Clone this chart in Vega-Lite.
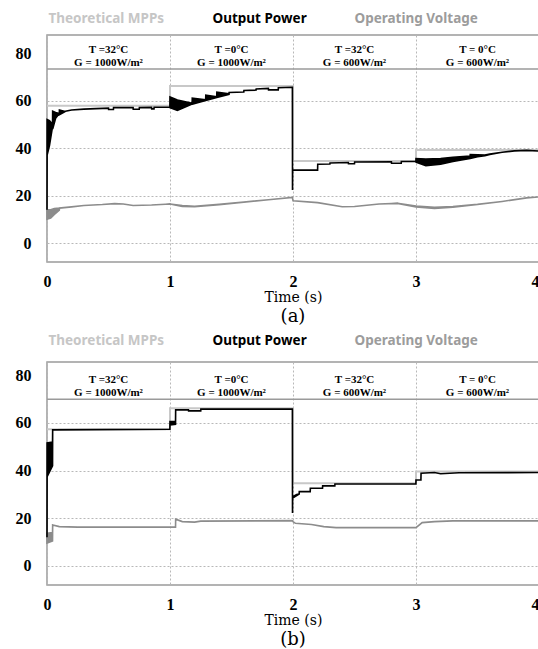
{
  "$schema": "https://vega.github.io/schema/vega-lite/v6.json",
  "padding": {"left": 14, "top": 11, "right": 0, "bottom": 2},
  "spacing": 6,
  "background": "white",
  "config": {
    "view": {"stroke": "#9a9a9a", "strokeWidth": 1.5},
    "axis": {
      "grid": true, "gridColor": "#b8b8b8", "gridDash": [2, 2], "gridWidth": 1,
      "domain": false, "ticks": false, "tickSize": 0,
      "labelFont": "Liberation Serif", "labelFontSize": 16, "labelFontWeight": "bold", "labelColor": "#000000",
      "titleFont": "DejaVu Serif", "titleFontSize": 14, "titleFontWeight": "normal", "titleColor": "#000000"
    },
    "title": {"font": "DejaVu Serif", "fontSize": 18, "fontWeight": "normal", "color": "#000000"}
  },
  "datasets": {
    "a_mpp": [
      {"t": 0, "v": 57.8}, {"t": 1, "v": 66.1}, {"t": 2, "v": 34.5}, {"t": 3, "v": 39.2}, {"t": 4, "v": 39.2}
    ],
    "b_mpp": [
      {"t": 0, "v": 57.4}, {"t": 1, "v": 66.2}, {"t": 2, "v": 34.7}, {"t": 3, "v": 39.6}, {"t": 4, "v": 39.6}
    ],
    "a_power": [
      {"t": 0, "hi": 14, "lo": 14},
      {"t": 0.001, "hi": 52, "lo": 37},
      {"t": 0.02, "hi": 51.5, "lo": 41},
      {"t": 0.045, "hi": 50, "lo": 49},
      {"t": 0.046, "hi": 55.5, "lo": 48},
      {"t": 0.07, "hi": 55, "lo": 52.5},
      {"t": 0.1, "hi": 54.5, "lo": 54.5},
      {"t": 0.101, "hi": 56, "lo": 54},
      {"t": 0.14, "hi": 55.5, "lo": 55.2},
      {"t": 0.15, "hi": 55.5, "lo": 55.5},
      {"t": 0.2, "hi": 56, "lo": 56},
      {"t": 0.3, "hi": 56.4, "lo": 56.4},
      {"t": 0.4, "hi": 56.6, "lo": 56.6},
      {"t": 0.5, "hi": 56.8, "lo": 56.8},
      {"t": 0.501, "hi": 56.2, "lo": 56.2},
      {"t": 0.54, "hi": 56.2, "lo": 56.2},
      {"t": 0.541, "hi": 57, "lo": 57},
      {"t": 0.7, "hi": 57, "lo": 57},
      {"t": 0.701, "hi": 56.3, "lo": 56.3},
      {"t": 0.75, "hi": 56.3, "lo": 56.3},
      {"t": 0.751, "hi": 57, "lo": 57},
      {"t": 0.85, "hi": 57.1, "lo": 57.1},
      {"t": 0.851, "hi": 56.5, "lo": 56.5},
      {"t": 0.87, "hi": 56.5, "lo": 56.5},
      {"t": 0.871, "hi": 57.2, "lo": 57.2},
      {"t": 0.999, "hi": 57.3, "lo": 57.3},
      {"t": 1.0, "hi": 61.5, "lo": 57},
      {"t": 1.06, "hi": 60.2, "lo": 55.8},
      {"t": 1.18, "hi": 58.8, "lo": 58.5},
      {"t": 1.181, "hi": 61, "lo": 58.5},
      {"t": 1.29, "hi": 60.3, "lo": 60},
      {"t": 1.291, "hi": 62.3, "lo": 60},
      {"t": 1.38, "hi": 61.6, "lo": 61.3},
      {"t": 1.381, "hi": 63.5, "lo": 61.3},
      {"t": 1.48, "hi": 62.8, "lo": 62.6},
      {"t": 1.481, "hi": 63.4, "lo": 63.4},
      {"t": 1.6, "hi": 63.6, "lo": 63.6},
      {"t": 1.601, "hi": 64.2, "lo": 64.2},
      {"t": 1.7, "hi": 64.4, "lo": 64.4},
      {"t": 1.701, "hi": 64.9, "lo": 64.9},
      {"t": 1.8, "hi": 65.1, "lo": 65.1},
      {"t": 1.801, "hi": 64.5, "lo": 64.5},
      {"t": 1.88, "hi": 64.5, "lo": 64.5},
      {"t": 1.881, "hi": 65.4, "lo": 65.4},
      {"t": 1.995, "hi": 65.6, "lo": 65.6},
      {"t": 1.996, "hi": 22.3, "lo": 22.3},
      {"t": 1.997, "hi": 30.7, "lo": 30.7},
      {"t": 2.2, "hi": 30.7, "lo": 30.7},
      {"t": 2.201, "hi": 33.2, "lo": 33.2},
      {"t": 2.3, "hi": 33.3, "lo": 33.3},
      {"t": 2.301, "hi": 33.7, "lo": 33.7},
      {"t": 2.45, "hi": 33.9, "lo": 33.9},
      {"t": 2.451, "hi": 33.4, "lo": 33.4},
      {"t": 2.5, "hi": 33.4, "lo": 33.4},
      {"t": 2.501, "hi": 34.1, "lo": 34.1},
      {"t": 2.8, "hi": 34.2, "lo": 34.2},
      {"t": 2.801, "hi": 33.6, "lo": 33.6},
      {"t": 2.88, "hi": 33.6, "lo": 33.6},
      {"t": 2.881, "hi": 34.3, "lo": 34.3},
      {"t": 2.999, "hi": 34.3, "lo": 34.3},
      {"t": 3.0, "hi": 35.6, "lo": 34.1},
      {"t": 3.08, "hi": 35.4, "lo": 32.6},
      {"t": 3.2, "hi": 35.6, "lo": 33.2},
      {"t": 3.3, "hi": 36.1, "lo": 34.3},
      {"t": 3.44, "hi": 36.6, "lo": 35.6},
      {"t": 3.441, "hi": 37.2, "lo": 35.6},
      {"t": 3.5, "hi": 37.1, "lo": 36.3},
      {"t": 3.56, "hi": 37, "lo": 36.8},
      {"t": 3.6, "hi": 37.5, "lo": 37.3},
      {"t": 3.7, "hi": 38.2, "lo": 38.2},
      {"t": 3.8, "hi": 38.8, "lo": 38.8},
      {"t": 3.9, "hi": 39.0, "lo": 39.0},
      {"t": 4.0, "hi": 38.7, "lo": 38.7}
    ],
    "a_volt": [
      {"t": 0, "hi": 14, "lo": 10},
      {"t": 0.03, "hi": 14, "lo": 10.5},
      {"t": 0.06, "hi": 14.5, "lo": 12},
      {"t": 0.1, "hi": 14.7, "lo": 13.8},
      {"t": 0.101, "hi": 14.7, "lo": 14.7},
      {"t": 0.2, "hi": 15.2, "lo": 15.2},
      {"t": 0.3, "hi": 15.8, "lo": 15.8},
      {"t": 0.45, "hi": 16.2, "lo": 16.2},
      {"t": 0.55, "hi": 16.6, "lo": 16.6},
      {"t": 0.62, "hi": 16.4, "lo": 16.4},
      {"t": 0.7, "hi": 15.8, "lo": 15.8},
      {"t": 0.85, "hi": 16.0, "lo": 16.0},
      {"t": 1.0, "hi": 16.4, "lo": 16.4},
      {"t": 1.1, "hi": 15.8, "lo": 15.4},
      {"t": 1.2, "hi": 15.5, "lo": 15.3},
      {"t": 1.4, "hi": 16.3, "lo": 16.1},
      {"t": 1.6, "hi": 17.3, "lo": 17.2},
      {"t": 1.8, "hi": 18.2, "lo": 18.2},
      {"t": 1.995, "hi": 19.2, "lo": 19.2},
      {"t": 2.0, "hi": 17.8, "lo": 17.8},
      {"t": 2.2, "hi": 17.0, "lo": 17.0},
      {"t": 2.4, "hi": 15.3, "lo": 15.3},
      {"t": 2.5, "hi": 15.4, "lo": 15.4},
      {"t": 2.7, "hi": 16.4, "lo": 16.4},
      {"t": 2.85, "hi": 16.7, "lo": 16.7},
      {"t": 3.0, "hi": 15.6, "lo": 15.2},
      {"t": 3.15, "hi": 15.0, "lo": 14.6},
      {"t": 3.3, "hi": 15.4, "lo": 15.1},
      {"t": 3.5, "hi": 16.3, "lo": 16.2},
      {"t": 3.7, "hi": 17.5, "lo": 17.5},
      {"t": 3.9, "hi": 19.0, "lo": 19.0},
      {"t": 4.0, "hi": 19.4, "lo": 19.4}
    ],
    "b_power": [
      {"t": 0, "hi": 12, "lo": 12},
      {"t": 0.001, "hi": 51.6, "lo": 37.5},
      {"t": 0.045, "hi": 52, "lo": 42},
      {"t": 0.046, "hi": 57.1, "lo": 57.1},
      {"t": 0.999, "hi": 57.4, "lo": 57.4},
      {"t": 1.0, "hi": 60.6, "lo": 59.2},
      {"t": 1.045, "hi": 60.6, "lo": 59.5},
      {"t": 1.046, "hi": 65.5, "lo": 65.5},
      {"t": 1.15, "hi": 65.5, "lo": 65.5},
      {"t": 1.151, "hi": 65.1, "lo": 65.1},
      {"t": 1.25, "hi": 65.1, "lo": 65.1},
      {"t": 1.251, "hi": 65.8, "lo": 65.8},
      {"t": 1.995, "hi": 65.8, "lo": 65.8},
      {"t": 1.996, "hi": 22.2, "lo": 22.2},
      {"t": 1.997, "hi": 29.1, "lo": 28.5},
      {"t": 2.03, "hi": 30.0, "lo": 29.5},
      {"t": 2.05, "hi": 30.2, "lo": 30.2},
      {"t": 2.051, "hi": 31.2, "lo": 31.2},
      {"t": 2.14, "hi": 31.2, "lo": 31.2},
      {"t": 2.141, "hi": 32.6, "lo": 32.6},
      {"t": 2.24, "hi": 32.6, "lo": 32.6},
      {"t": 2.241, "hi": 33.6, "lo": 33.6},
      {"t": 2.34, "hi": 33.6, "lo": 33.6},
      {"t": 2.341, "hi": 34.4, "lo": 34.4},
      {"t": 2.999, "hi": 34.4, "lo": 34.4},
      {"t": 3.0, "hi": 36.1, "lo": 36.1},
      {"t": 3.04, "hi": 36.1, "lo": 36.1},
      {"t": 3.041, "hi": 38.9, "lo": 38.9},
      {"t": 3.15, "hi": 39.2, "lo": 39.2},
      {"t": 3.2, "hi": 38.7, "lo": 38.7},
      {"t": 3.35, "hi": 39.1, "lo": 39.1},
      {"t": 4.0, "hi": 39.2, "lo": 39.2}
    ],
    "b_volt": [
      {"t": 0, "hi": 13.7, "lo": 9.6},
      {"t": 0.045, "hi": 14, "lo": 10.5},
      {"t": 0.046, "hi": 17.2, "lo": 17.2},
      {"t": 0.1, "hi": 16.5, "lo": 16.5},
      {"t": 0.25, "hi": 16.3, "lo": 16.3},
      {"t": 1.045, "hi": 16.3, "lo": 16.3},
      {"t": 1.046, "hi": 19.6, "lo": 19.6},
      {"t": 1.1, "hi": 18.6, "lo": 18.6},
      {"t": 1.2, "hi": 18.4, "lo": 18.4},
      {"t": 1.25, "hi": 18.8, "lo": 18.8},
      {"t": 1.995, "hi": 19.0, "lo": 19.0},
      {"t": 2.0, "hi": 18.6, "lo": 18.6},
      {"t": 2.02, "hi": 17.9, "lo": 17.9},
      {"t": 2.15, "hi": 17.4, "lo": 17.4},
      {"t": 2.25, "hi": 16.5, "lo": 16.5},
      {"t": 2.35, "hi": 16.1, "lo": 16.1},
      {"t": 3.0, "hi": 16.1, "lo": 16.1},
      {"t": 3.05, "hi": 18.2, "lo": 18.2},
      {"t": 3.15, "hi": 18.6, "lo": 18.6},
      {"t": 3.3, "hi": 18.9, "lo": 18.9},
      {"t": 4.0, "hi": 18.9, "lo": 18.9}
    ],
    "headers": [
      {"t": 0.5, "label": "T =32°C\nG = 1000W/m²"},
      {"t": 1.5, "label": "T =0°C\nG = 1000W/m²"},
      {"t": 2.5, "label": "T =32°C\nG = 600W/m²"},
      {"t": 3.5, "label": "T = 0°C\nG = 600W/m²"}
    ]
  },
  "resolve": {"scale": {"color": "independent"}, "legend": {"color": "independent"}},
  "vconcat": [
    {
      "width": 492,
      "height": 227,
      "title": {"text": "(a)", "orient": "bottom", "anchor": "middle", "offset": 4},
      "layer": [
        {
          "data": {"name": "a_mpp"},
          "mark": {"type": "line", "interpolate": "step-after", "strokeWidth": 2},
          "encoding": {
            "x": {"field": "t", "type": "quantitative", "title": "Time (s)",
              "scale": {"domain": [0, 4], "nice": false, "zero": false},
              "axis": {"values": [0, 1, 2, 3, 4], "format": "d", "labelPadding": 11, "titlePadding": 1,
                "labelAlign": {"condition": {"test": "datum.value == 4", "value": "right"}, "value": "center"}}},
            "y": {"field": "v", "type": "quantitative", "title": null,
              "scale": {"domain": [-8, 87.6], "nice": false, "zero": false},
              "axis": {"values": [0, 20, 40, 60, 80], "format": "d", "labelPadding": 16,
                "gridOpacity": {"condition": {"test": "datum.value == 80", "value": 0}, "value": 1}}},
            "color": {"datum": "Theoretical MPPs",
              "scale": {"domain": ["Theoretical MPPs", "Output Power", "Operating Voltage"], "range": ["#c8c8c8", "#000000", "#8c8c8c"]},
              "legend": {"orient": "top", "direction": "horizontal", "title": null, "symbolSize": 0, "symbolStrokeWidth": 0, "symbolOpacity": 0,
                "labelOffset": -12, "columnPadding": 46, "labelFont": "Noto Sans", "labelFontSize": 13.5, "labelFontWeight": "bold",
                "labelColor": {"expr": "datum.label == 'Output Power' ? '#000000' : datum.label == 'Theoretical MPPs' ? '#c6c6c6' : '#9c9c9c'"},
                "offset": 9, "padding": 0}}
          }
        },
        {
          "data": {"name": "a_volt"},
          "mark": {"type": "area", "stroke": "#8c8c8c", "strokeWidth": 1.6},
          "encoding": {
            "x": {"field": "t", "type": "quantitative", "title": "Time (s)"},
            "y": {"field": "hi", "type": "quantitative", "title": null},
            "y2": {"field": "lo"},
            "color": {"datum": "Operating Voltage"}
          }
        },
        {
          "data": {"name": "a_power"},
          "mark": {"type": "area", "stroke": "#000000", "strokeWidth": 1.6},
          "encoding": {
            "x": {"field": "t", "type": "quantitative", "title": "Time (s)"},
            "y": {"field": "hi", "type": "quantitative", "title": null},
            "y2": {"field": "lo"},
            "color": {"datum": "Output Power"}
          }
        },
        {
          "data": {"values": [{}]},
          "mark": {"type": "rule", "color": "#9a9a9a", "strokeWidth": 1.5},
          "encoding": {"y": {"datum": 73.3}}
        },
        {
          "data": {"name": "headers"},
          "mark": {"type": "text", "lineBreak": "\n", "font": "Liberation Serif", "fontSize": 11, "fontWeight": "bold", "lineHeight": 13.5, "baseline": "middle", "color": "#000000"},
          "encoding": {
            "x": {"field": "t", "type": "quantitative", "title": "Time (s)"},
            "y": {"datum": 81.3},
            "text": {"field": "label"}
          }
        }
      ]
    },
    {
      "width": 492,
      "height": 223,
      "title": {"text": "(b)", "orient": "bottom", "anchor": "middle", "offset": 4},
      "layer": [
        {
          "data": {"name": "b_mpp"},
          "mark": {"type": "line", "interpolate": "step-after", "strokeWidth": 2},
          "encoding": {
            "x": {"field": "t", "type": "quantitative", "title": "Time (s)",
              "scale": {"domain": [0, 4], "nice": false, "zero": false},
              "axis": {"values": [0, 1, 2, 3, 4], "format": "d", "labelPadding": 11, "titlePadding": 1,
                "labelAlign": {"condition": {"test": "datum.value == 4", "value": "right"}, "value": "center"}}},
            "y": {"field": "v", "type": "quantitative", "title": null,
              "scale": {"domain": [-8, 85.6], "nice": false, "zero": false},
              "axis": {"values": [0, 20, 40, 60, 80], "format": "d", "labelPadding": 16,
                "gridOpacity": {"condition": {"test": "datum.value == 80", "value": 0}, "value": 1}}},
            "color": {"datum": "Theoretical MPPs",
              "scale": {"domain": ["Theoretical MPPs", "Output Power", "Operating Voltage"], "range": ["#c8c8c8", "#000000", "#8c8c8c"]},
              "legend": {"orient": "top", "direction": "horizontal", "title": null, "symbolSize": 0, "symbolStrokeWidth": 0, "symbolOpacity": 0,
                "labelOffset": -12, "columnPadding": 46, "labelFont": "Noto Sans", "labelFontSize": 13.5, "labelFontWeight": "bold",
                "labelColor": {"expr": "datum.label == 'Output Power' ? '#000000' : datum.label == 'Theoretical MPPs' ? '#c6c6c6' : '#9c9c9c'"},
                "offset": 14, "padding": 0}}
          }
        },
        {
          "data": {"name": "b_volt"},
          "mark": {"type": "area", "stroke": "#8c8c8c", "strokeWidth": 1.6},
          "encoding": {
            "x": {"field": "t", "type": "quantitative", "title": "Time (s)"},
            "y": {"field": "hi", "type": "quantitative", "title": null},
            "y2": {"field": "lo"},
            "color": {"datum": "Operating Voltage"}
          }
        },
        {
          "data": {"name": "b_power"},
          "mark": {"type": "area", "stroke": "#000000", "strokeWidth": 1.6},
          "encoding": {
            "x": {"field": "t", "type": "quantitative", "title": "Time (s)"},
            "y": {"field": "hi", "type": "quantitative", "title": null},
            "y2": {"field": "lo"},
            "color": {"datum": "Output Power"}
          }
        },
        {
          "data": {"values": [{}]},
          "mark": {"type": "rule", "color": "#9a9a9a", "strokeWidth": 1.5},
          "encoding": {"y": {"datum": 70.0}}
        },
        {
          "data": {"name": "headers"},
          "mark": {"type": "text", "lineBreak": "\n", "font": "Liberation Serif", "fontSize": 11, "fontWeight": "bold", "lineHeight": 13.5, "baseline": "middle", "color": "#000000"},
          "encoding": {
            "x": {"field": "t", "type": "quantitative", "title": "Time (s)"},
            "y": {"datum": 78.2},
            "text": {"field": "label"}
          }
        }
      ]
    }
  ]
}
